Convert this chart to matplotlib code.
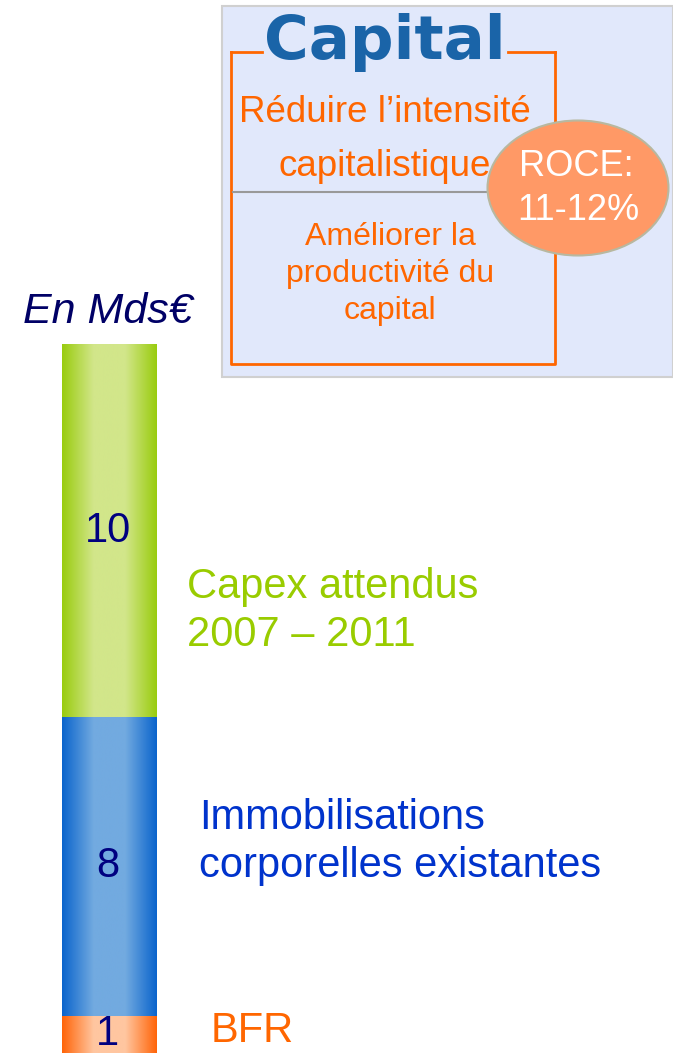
import numpy as np
import matplotlib
matplotlib.use('Agg')
import matplotlib.pyplot as plt
from matplotlib.patches import Rectangle, Ellipse
from matplotlib.colors import LinearSegmentedColormap

plt.rcParams['font.family'] = ['Liberation Sans', 'DejaVu Sans']

# data
segments = ['BFR', 'Immobilisations\ncorporelles existantes', 'Capex attendus\n2007 – 2011']
values = [1, 8, 10]
value_labels = ['1', '8', '10']
edge_cols = ['#FF6408', '#0A64CC', '#99CC0E']
mid_cols = ['#FFC6A0', '#72AAE0', '#D2E68A']
text_cols = ['#FF6600', '#0033CC', '#99CC00']

W, H = 673, 1053
fig = plt.figure(figsize=(W / 100, H / 100), dpi=100)

# overlay axes in pixel coords for the annotation block
ax0 = fig.add_axes([0, 0, 1, 1])
ax0.set_xlim(0, W); ax0.set_ylim(H, 0); ax0.axis('off')

# light blue panel
ax0.add_patch(Rectangle((222, 6), 451, 371, facecolor='#E1E8FB', edgecolor='#D0D0D0', lw=1.5))
# orange frame with gap for the title
oc = '#FF6600'
ax0.plot([231, 231, 555, 555], [52, 364, 364, 52], color=oc, lw=2)
ax0.plot([231, 262], [52, 52], color=oc, lw=2)
ax0.plot([508, 555], [52, 52], color=oc, lw=2)
ax0.plot([233, 492], [192, 192], color='#999999', lw=1.5)
ax0.text(385, 42, 'Capital', color='#1A64A8', fontsize=44, fontweight='bold',
         family=['DejaVu Sans'], ha='center', va='center')
ax0.text(385, 112, 'Réduire l\u2019intensité', color=oc, fontsize=26.5, ha='center', va='center')
ax0.text(385, 166, 'capitalistique', color=oc, fontsize=26.5, ha='center', va='center')
for s, y in zip(['Améliorer la', 'productivité du', 'capital'], [237, 274, 311]):
    ax0.text(390, y, s, color=oc, fontsize=23, ha='center', va='center')
ax0.add_patch(Ellipse((578, 188), 181, 135, facecolor='#FF9966', edgecolor='#B8B8A0', lw=1.5, zorder=5))
ax0.text(576, 166, 'ROCE:', color='white', fontsize=26, ha='center', va='center', zorder=6)
ax0.text(578, 211, '11-12%', color='white', fontsize=26, ha='center', va='center', zorder=6)
ax0.text(108, 312, 'En Mds€', color='#000066', fontsize=31, style='italic', ha='center', va='center')

# stacked bar
ax = fig.add_axes([62 / W, 0, 95 / W, 709 / H])
total = sum(values)
ax.set_xlim(-0.5, 0.5); ax.set_ylim(0, total); ax.axis('off')
bottom = 0
for v, lab, ec, mc in zip(values, value_labels, edge_cols, mid_cols):
    cmap = LinearSegmentedColormap.from_list('g', [ec, mc, mc, ec])
    grad = np.linspace(0, 1, 256).reshape(1, -1)
    bars = ax.bar(0, v, bottom=bottom, width=1.0, color='none')
    im = ax.imshow(grad, cmap=cmap, aspect='auto', extent=(-0.5, 0.5, bottom, bottom + v))
    im.set_clip_path(bars[0])
    ax.text(-0.02, bottom + v / 2, lab, color='#000080', fontsize=30, ha='center', va='center')
    bottom += v

# side labels (first line position in pixels, from top)
label_x = [211, 199, 187]
label_y = [1031, 818, 587]
for seg, col, lx, ly in zip(segments, text_cols, label_x, label_y):
    for i, line in enumerate(seg.split('\n')):
        ax0.text(lx, ly + i * 48, line, color=col, fontsize=30, ha='left', va='center')

fig.savefig('out.png', dpi=100)
